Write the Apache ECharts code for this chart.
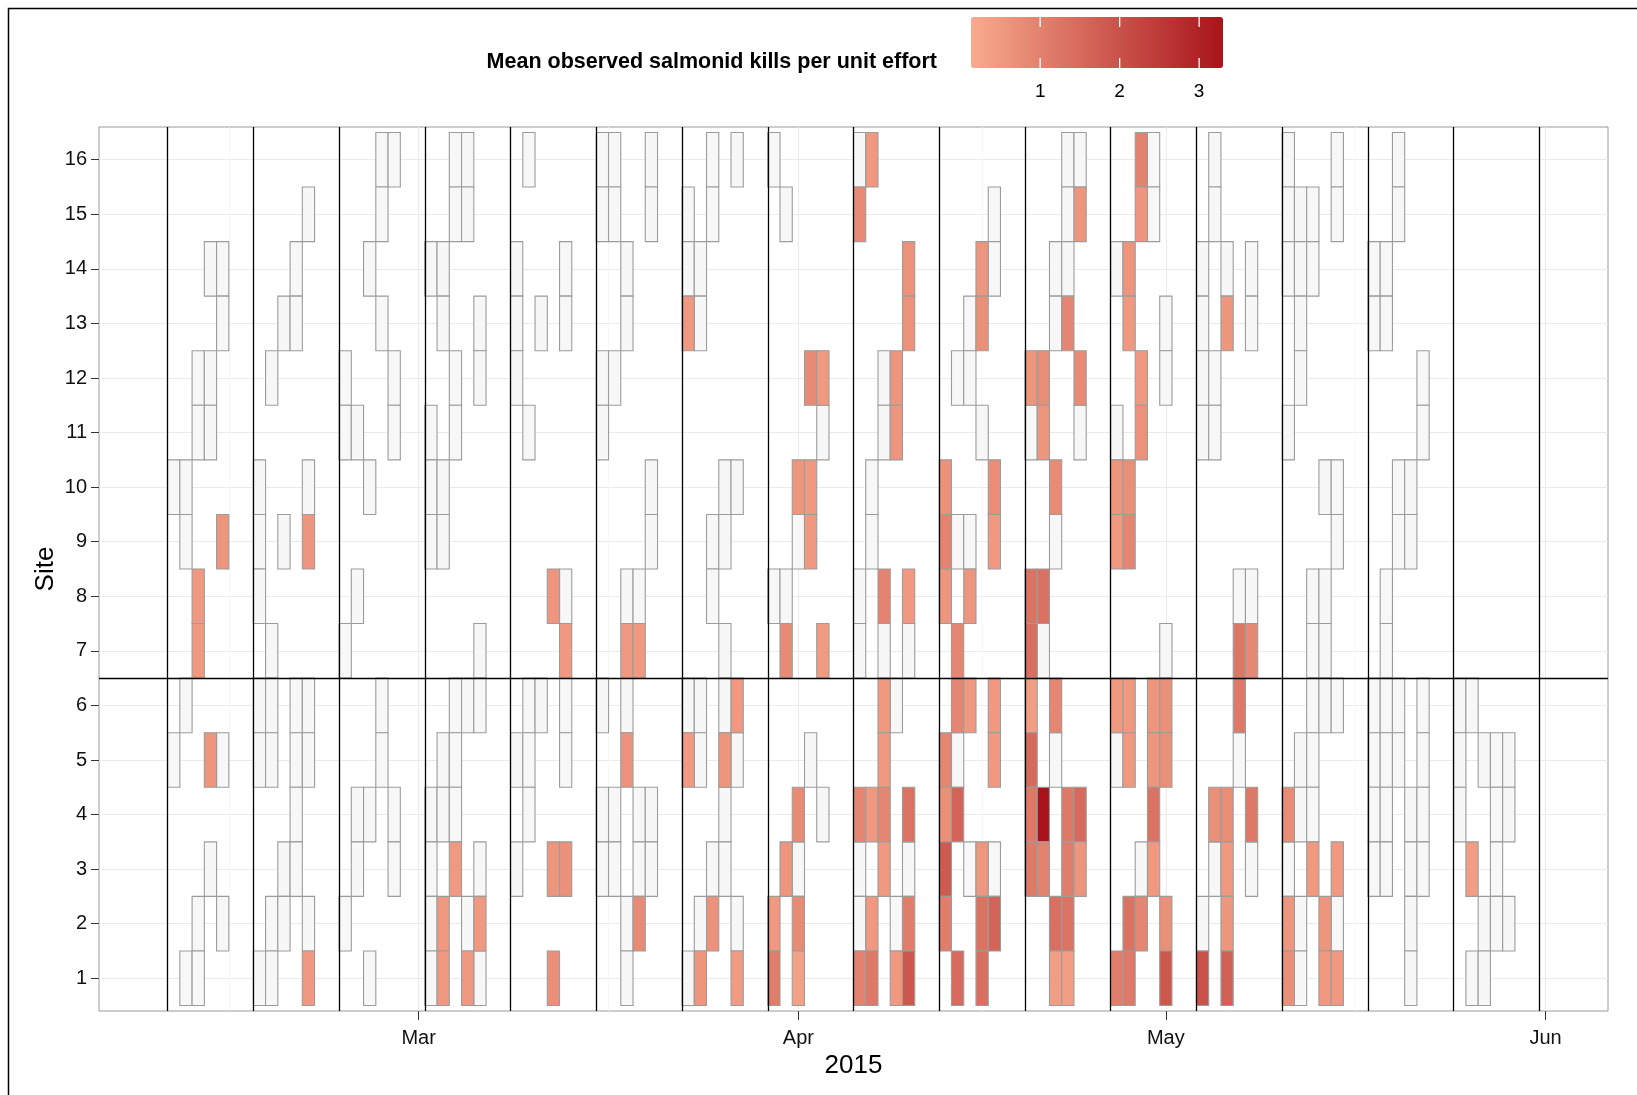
<!DOCTYPE html>
<html>
<head>
<meta charset="utf-8">
<script src="https://cdn.jsdelivr.net/npm/echarts@6/dist/echarts.min.js"></script>
<style>
  html, body { margin: 0; padding: 0; background: #fff; }
  #chart { width: 1637px; height: 1095px; }
</style>
</head>
<body>
<div id="chart"></div>
<script>
// survey weeks start on Monday; each entry is [weekday (0 = Mon), site, mean kills per unit effort]
// a 0 means the site was surveyed but no salmonid kill was seen (grey tile)
const firstMonday = Date.UTC(2015, 1, 9);

const week01 = [
  [0,10,0],[0,5,0],
  [1,10,0],[1,9,0],[1,6,0],[1,1,0],
  [2,12,0],[2,11,0],[2,8,0.5],[2,7,0.5],[2,2,0],[2,1,0],
  [3,14,0],[3,12,0],[3,11,0],[3,5,0.6],[3,3,0],
  [4,14,0],[4,13,0],[4,9,0.6],[4,5,0],[4,2,0]
];
const week02 = [
  [0,10,0],[0,9,0],[0,8,0],[0,6,0],[0,5,0],[0,1,0],
  [1,12,0],[1,7,0],[1,6,0],[1,5,0],[1,2,0],[1,1,0],
  [2,13,0],[2,9,0],[2,3,0],[2,2,0],
  [3,14,0],[3,13,0],[3,6,0],[3,5,0],[3,4,0],[3,3,0],
  [4,15,0],[4,10,0],[4,9,0.6],[4,6,0],[4,5,0],[4,2,0],[4,1,0.5]
];
const week03 = [
  [0,12,0],[0,11,0],[0,7,0],[0,2,0],
  [1,11,0],[1,8,0],[1,4,0],[1,3,0],
  [2,14,0],[2,10,0],[2,4,0],[2,1,0],
  [3,16,0],[3,15,0],[3,13,0],[3,6,0],[3,5,0],
  [4,16,0],[4,12,0],[4,11,0],[4,4,0],[4,3,0]
];
const week04 = [
  [0,14,0],[0,11,0],[0,10,0],[0,9,0],[0,4,0],[0,3,0],[0,2,0],[0,1,0],
  [1,14,0],[1,13,0],[1,10,0],[1,9,0],[1,5,0],[1,4,0],[1,2,0.5],[1,1,0.5],
  [2,16,0],[2,15,0],[2,12,0],[2,11,0],[2,6,0],[2,5,0],[2,4,0],[2,3,0.5],
  [3,16,0],[3,15,0],[3,6,0],[3,2,0],[3,1,0.5],
  [4,13,0],[4,12,0],[4,7,0],[4,6,0],[4,3,0],[4,2,0.5],[4,1,0]
];
const week05 = [
  [0,14,0],[0,13,0],[0,12,0],[0,5,0],[0,3,0],
  [1,16,0],[1,11,0],[1,6,0],[1,5,0],[1,4,0],
  [2,13,0],[2,6,0],
  [3,8,0.6],[3,3,0.6],[3,1,0.7],
  [4,14,0],[4,13,0],[4,8,0],[4,7,0.5],[4,6,0],[4,5,0],[4,3,0.65]
];
const week06 = [
  [0,16,0],[0,15,0],[0,12,0],[0,11,0],[0,6,0],[0,4,0],[0,3,0],
  [1,16,0],[1,15,0],[1,12,0],[1,4,0],[1,3,0],
  [2,14,0],[2,13,0],[2,8,0],[2,7,0.5],[2,6,0],[2,5,0.65],[2,2,0],[2,1,0],
  [3,8,0],[3,7,0.5],[3,4,0],[3,3,0],[3,2,0.8],
  [4,16,0],[4,15,0],[4,10,0],[4,9,0],[4,4,0],[4,3,0]
];
const week07 = [
  [0,15,0],[0,14,0],[0,13,0.5],[0,6,0],[0,5,0.45],[0,1,0],
  [1,14,0],[1,13,0],[1,6,0],[1,5,0],[1,2,0],[1,1,0.6],
  [2,16,0],[2,15,0],[2,9,0],[2,8,0],[2,3,0],[2,2,0.65],
  [3,10,0],[3,9,0],[3,7,0],[3,6,0],[3,5,0.6],[3,4,0],[3,3,0],
  [4,16,0],[4,10,0],[4,6,0.5],[4,5,0],[4,2,0],[4,1,0.45]
];
const week08 = [
  [0,16,0],[0,8,0],[0,2,0.5],[0,1,1.1],
  [1,15,0],[1,8,0],[1,7,0.8],[1,3,0.6],
  [2,10,0.6],[2,9,0],[2,4,0.8],[2,3,0],[2,2,0.8],[2,1,0.35],
  [3,12,0.8],[3,10,0.5],[3,9,0.5],[3,5,0],
  [4,12,0.5],[4,11,0],[4,7,0.45],[4,4,0]
];
const week09 = [
  [0,16,0],[0,15,0.8],[0,8,0],[0,7,0],[0,4,0.9],[0,3,0],[0,2,0],[0,1,1.0],
  [1,16,0.5],[1,10,0],[1,9,0],[1,4,0.5],[1,2,0.5],[1,1,1.2],
  [2,12,0],[2,11,0],[2,8,0.95],[2,7,0],[2,6,0.5],[2,5,0.5],[2,4,0.9],[2,3,0.5],
  [3,12,0.6],[3,11,0.6],[3,6,0],[3,2,0],[3,1,0.5],
  [4,14,0.65],[4,13,0.65],[4,8,0.5],[4,7,0],[4,4,1.3],[4,3,0],[4,2,1.1],[4,1,1.9]
];
const week10 = [
  [0,10,0.65],[0,9,0.95],[0,8,0.6],[0,5,0.9],[0,4,0.7],[0,3,1.8],[0,2,1.1],
  [1,12,0],[1,9,0],[1,7,0.9],[1,6,0.9],[1,5,0],[1,4,1.6],[1,1,1.5],
  [2,13,0],[2,12,0],[2,9,0],[2,8,0.6],[2,6,0.5],[2,3,0],
  [3,14,0.6],[3,13,0.7],[3,11,0],[3,3,0.55],[3,2,1.3],[3,1,1.4],
  [4,15,0],[4,14,0],[4,10,0.75],[4,9,0.5],[4,6,0.5],[4,5,0.5],[4,3,0],[4,2,1.6]
];
const week11 = [
  [0,12,0.6],[0,11,0],[0,8,1.3],[0,7,1.4],[0,6,0.4],[0,5,1.5],[0,4,1.2],[0,3,1.15],
  [1,12,0.75],[1,11,0.6],[1,8,1.35],[1,7,0],[1,4,3.3],[1,3,1.0],
  [2,14,0],[2,13,0],[2,10,0.8],[2,9,0],[2,6,0.9],[2,5,0],[2,2,1.4],[2,1,0.4],
  [3,16,0],[3,15,0],[3,14,0],[3,13,0.9],[3,4,1.2],[3,3,1.1],[3,2,1.3],[3,1,0.4],
  [4,16,0],[4,15,0.6],[4,12,0.8],[4,11,0],[4,4,1.5],[4,3,0.6]
];
const week12 = [
  [0,14,0],[0,11,0],[0,10,0.6],[0,9,0.5],[0,6,0.5],[0,5,0],[0,1,1.1],
  [1,14,0.6],[1,13,0.5],[1,10,0.7],[1,9,0.9],[1,6,0.5],[1,5,0.5],[1,2,1.3],[1,1,1.2],
  [2,16,1.0],[2,15,0.6],[2,12,0.5],[2,11,0.65],[2,3,0],[2,2,0.9],
  [3,16,0],[3,15,0],[3,6,0.6],[3,5,0.6],[3,4,1.3],[3,3,0.5],
  [4,13,0],[4,12,0],[4,7,0],[4,6,0.7],[4,5,0.7],[4,2,0.7],[4,1,1.9]
];
const week13 = [
  [0,14,0],[0,13,0],[0,12,0],[0,11,0],[0,2,0],[0,1,2.0],
  [1,16,0],[1,15,0],[1,12,0],[1,11,0],[1,4,0.7],[1,3,0],
  [2,14,0],[2,13,0.55],[2,4,0.75],[2,3,0.5],[2,2,0.55],[2,1,1.7],
  [3,8,0],[3,7,1.25],[3,6,1.2],[3,5,0],
  [4,14,0],[4,13,0],[4,8,0],[4,7,0.85],[4,4,1.2],[4,3,0]
];
const week14 = [
  [0,16,0],[0,15,0],[0,14,0],[0,11,0],[0,4,0.75],[0,3,0],[0,2,0.55],[0,1,0.7],
  [1,15,0],[1,14,0],[1,13,0],[1,12,0],[1,5,0],[1,4,0],[1,2,0],[1,1,0],
  [2,15,0],[2,14,0],[2,8,0],[2,7,0],[2,6,0],[2,5,0],[2,4,0],[2,3,0.5],
  [3,10,0],[3,8,0],[3,7,0],[3,6,0],[3,2,0.6],[3,1,0.5],
  [4,16,0],[4,15,0],[4,10,0],[4,9,0],[4,6,0],[4,3,0.5],[4,2,0],[4,1,0.5]
];
const week15 = [
  [0,14,0],[0,13,0],[0,6,0],[0,5,0],[0,4,0],[0,3,0],
  [1,14,0],[1,13,0],[1,8,0],[1,7,0],[1,6,0],[1,5,0],[1,4,0],[1,3,0],
  [2,16,0],[2,15,0],[2,10,0],[2,9,0],[2,6,0],[2,5,0],
  [3,10,0],[3,9,0],[3,4,0],[3,3,0],[3,2,0],[3,1,0],
  [4,12,0],[4,11,0],[4,6,0],[4,5,0],[4,4,0],[4,3,0]
];
const week16 = [
  [0,6,0],[0,5,0],[0,4,0],
  [1,6,0],[1,3,0.4],[1,1,0],
  [2,5,0],[2,2,0],[2,1,0],
  [3,5,0],[3,4,0],[3,3,0],[3,2,0],
  [4,5,0],[4,4,0],[4,2,0]
];

const sites = [1, 2, 3, 4, 5, 6, 7, 8, 9, 10, 11, 12, 13, 14, 15, 16];
const monthStarts = [Date.UTC(2015, 2, 1), Date.UTC(2015, 3, 1), Date.UTC(2015, 4, 1), Date.UTC(2015, 5, 1)];
const monthNames = ['Jan', 'Feb', 'Mar', 'Apr', 'May', 'Jun', 'Jul', 'Aug', 'Sep', 'Oct', 'Nov', 'Dec'];
const legendTicks = [1, 2, 3];
const killRange = [0.13, 3.3];
const siteGroupBreak = 6.5;

(function () {
  const DAY = 24 * 3600 * 1000;
  const FONT = "'Liberation Sans', Arial, Helvetica, sans-serif";
  const weeks = [week01, week02, week03, week04, week05, week06, week07, week08,
    week09, week10, week11, week12, week13, week14, week15, week16];

  // split tiles into surveyed-without-kills and with kills
  const zeroTiles = [];
  const killTiles = [];
  weeks.forEach((wk, w) => {
    wk.forEach(([d, s, v]) => {
      const t = firstMonday + (w * 7 + d) * DAY;
      (v > 0 ? killTiles : zeroTiles).push([t, s, v]);
    });
  });

  // week separators sit between Sunday and Monday
  const weekEdges = [];
  for (let k = 0; k <= weeks.length; k++) weekEdges.push(firstMonday + (7 * k - 0.5) * DAY);
  const xPad = 0.05 * (weekEdges[weekEdges.length - 1] - weekEdges[0]);

  // minor grid halfway between month breaks (plus one before the first)
  const minorX = [monthStarts[0] - (monthStarts[1] - monthStarts[0]) / 2];
  for (let i = 1; i < monthStarts.length; i++) minorX.push((monthStarts[i - 1] + monthStarts[i]) / 2);

  const tileItem = (fill) => (params, api) => {
    const t = api.value(0), s = api.value(1);
    const a = api.coord([t - DAY / 2, s + 0.5]);
    const b = api.coord([t + DAY / 2, s - 0.5]);
    return {
      type: 'rect',
      shape: { x: a[0], y: a[1], width: b[0] - a[0], height: b[1] - a[1] },
      style: { fill: fill || api.visual('color'), stroke: '#9c9c9c', lineWidth: 1.1 }
    };
  };

  const gridLines = [
    ...sites.map(s => ({ yAxis: s, lineStyle: { color: '#ebebeb', width: 1.1, type: 'solid' } })),
    ...monthStarts.map(t => ({ xAxis: t, lineStyle: { color: '#ebebeb', width: 1.1, type: 'solid' } })),
    ...minorX.map(t => ({ xAxis: t, lineStyle: { color: '#f5f5f5', width: 0.8, type: 'solid' } }))
  ];
  const blackLines = [
    ...weekEdges.map(t => ({ xAxis: t })),
    { yAxis: siteGroupBreak }
  ];

  // colour bar geometry
  const barLeft = 971, barTop = 17, barLen = 252, barThick = 51;
  const barX = v => barLeft + (v - killRange[0]) / (killRange[1] - killRange[0]) * barLen;

  const graphic = [
    { type: 'rect', z: 100, silent: true, shape: { x: 8.5, y: 8.5, width: 1700, height: 1200 },
      style: { fill: 'none', stroke: '#000', lineWidth: 1.5 } },
    { type: 'text', z: 100, x: 937, y: 62,
      style: { text: 'Mean observed salmonid kills per unit effort', font: 'bold 21.5px ' + FONT,
        fill: '#000', align: 'right', verticalAlign: 'middle' } }
  ];
  legendTicks.forEach(v => {
    const x = barX(v);
    graphic.push(
      { type: 'line', z: 100, silent: true, shape: { x1: x, y1: barTop, x2: x, y2: barTop + 10 },
        style: { stroke: '#fff', lineWidth: 1.3 } },
      { type: 'line', z: 100, silent: true, shape: { x1: x, y1: barTop + barThick - 10, x2: x, y2: barTop + barThick },
        style: { stroke: '#fff', lineWidth: 1.3 } },
      { type: 'text', z: 100, x: x, y: 92,
        style: { text: String(v), font: '19px ' + FONT, fill: '#000', align: 'center', verticalAlign: 'middle' } }
    );
  });

  const chart = echarts.init(document.getElementById('chart'));
  chart.setOption({
    animation: false,
    backgroundColor: '#fff',
    textStyle: { fontFamily: FONT },
    grid: { left: 99, top: 127, width: 1509, height: 884, show: true,
      borderColor: '#9a9a9a', borderWidth: 1, backgroundColor: 'transparent' },
    xAxis: {
      type: 'value',
      min: weekEdges[0] - xPad,
      max: weekEdges[weekEdges.length - 1] + xPad,
      name: '2015', nameLocation: 'middle', nameGap: 42, nameMoveOverlap: false,
      nameTextStyle: { fontSize: 26, color: '#000', fontFamily: FONT },
      axisLine: { show: false },
      splitLine: { show: false },
      axisTick: { customValues: monthStarts, length: 9, lineStyle: { color: '#333' } },
      axisLabel: { customValues: monthStarts, fontSize: 20, color: '#111', margin: 17,
        formatter: v => monthNames[new Date(v).getUTCMonth()] }
    },
    yAxis: {
      type: 'value', min: 0.4, max: 16.6,
      name: 'Site', nameLocation: 'middle', nameGap: 40, nameRotate: 90, nameMoveOverlap: false,
      nameTextStyle: { fontSize: 26, color: '#000', fontFamily: FONT },
      axisLine: { show: false },
      splitLine: { show: false },
      axisTick: { customValues: sites, length: 8, lineStyle: { color: '#333' } },
      axisLabel: { customValues: sites, fontSize: 20, color: '#111', margin: 12 }
    },
    visualMap: {
      type: 'continuous', seriesIndex: 1, dimension: 2,
      min: killRange[0], max: killRange[1],
      orient: 'horizontal', left: barLeft, top: barTop,
      itemWidth: barThick, itemHeight: barLen, padding: 0,
      calculable: false, hoverLink: false,
      inRange: { color: ['#f9ab8e', '#a8141a'] }
    },
    series: [
      { name: 'no kills', type: 'custom', z: 2, data: zeroTiles, encode: { x: 0, y: 1 },
        renderItem: tileItem('#f7f7f7'), silent: true },
      { name: 'kills', type: 'custom', z: 3, data: killTiles, encode: { x: 0, y: 1 },
        renderItem: tileItem(null), silent: true },
      { name: 'grid', type: 'line', data: [], silent: true,
        markLine: { z: 1, silent: true, symbol: 'none', animation: false,
          label: { show: false }, emphasis: { disabled: true }, data: gridLines } },
      { name: 'weeks', type: 'line', data: [], silent: true,
        markLine: { z: 10, silent: true, symbol: 'none', animation: false,
          label: { show: false }, emphasis: { disabled: true },
          lineStyle: { color: '#000', width: 1.3, type: 'solid' }, data: blackLines } }
    ],
    graphic: graphic
  });
  window.addEventListener('resize', () => chart.resize());
})();
</script>
</body>
</html>
